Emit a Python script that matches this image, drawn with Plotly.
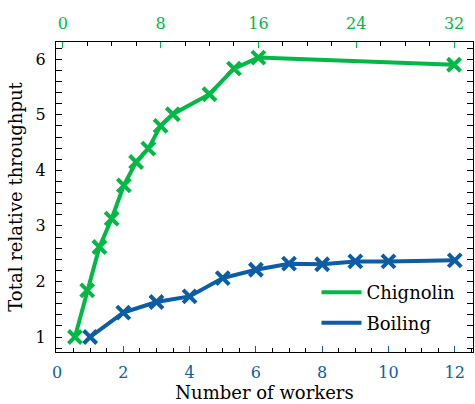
import plotly.graph_objects as go

# Data
chig_workers = [1, 2, 3, 4, 5, 6, 7, 8, 9, 12, 14, 16, 32]
chig_throughput = [1.0, 1.84, 2.62, 3.13, 3.73, 4.15, 4.39, 4.80, 5.01, 5.37, 5.83, 6.03, 5.90]
boil_workers = [1, 2, 3, 4, 5, 6, 7, 8, 9, 10, 12]
boil_throughput = [1.0, 1.44, 1.63, 1.73, 2.06, 2.21, 2.32, 2.31, 2.36, 2.36, 2.38]
bottom_ticks = [0, 2, 4, 6, 8, 10, 12]
top_ticks = [0, 8, 16, 24, 32]
y_ticks = [1, 2, 3, 4, 5, 6]

GREEN = "#00B945"
BLUE = "#0C5DA5"
FONT = "DejaVu Serif"

fig = go.Figure()
fig.add_trace(go.Scatter(
    x=chig_workers, y=chig_throughput, xaxis="x2", name="Chignolin",
    mode="lines+markers", line=dict(color=GREEN, width=4), showlegend=False,
    marker=dict(symbol="x-thin", size=13, line=dict(width=4, color=GREEN)),
))
fig.add_trace(go.Scatter(
    x=boil_workers, y=boil_throughput, xaxis="x", name="Boiling",
    mode="lines+markers", line=dict(color=BLUE, width=4), showlegend=False,
    marker=dict(symbol="x-thin", size=13, line=dict(width=4, color=BLUE)),
))
# legend entries (lines only)
fig.add_trace(go.Scatter(x=[None], y=[None], mode="lines", name="Chignolin",
                         legendgroup="a", line=dict(color=GREEN, width=4)))
fig.add_trace(go.Scatter(x=[None], y=[None], mode="lines", name="Boiling",
                         legendgroup="b", line=dict(color=BLUE, width=4)))

fig.update_layout(
    width=475, height=404,
    margin=dict(l=56, r=2, t=42, b=52, autoexpand=False),
    plot_bgcolor="white", paper_bgcolor="white",
    font=dict(family=FONT, size=16, color="black"),
    showlegend=True,
    legend=dict(x=0.97, xanchor="right", y=0.035, yanchor="bottom",
                bgcolor="rgba(0,0,0,0)", font=dict(size=18, family=FONT),
                itemwidth=40, tracegroupgap=4),
    xaxis=dict(
        range=[-0.03, 12.55], tickvals=bottom_ticks, showgrid=False, zeroline=False,
        showline=True, linecolor="black", linewidth=1.2, mirror=False,
        ticks="inside", ticklen=6, tickcolor=BLUE, tickwidth=1,
        tickfont=dict(color=BLUE, size=16, family=FONT),
        minor=dict(ticks="inside", dtick=0.5, tick0=0, ticklen=3.5, tickcolor="black", showgrid=False),
        title=dict(text="Number of workers", font=dict(size=18, family=FONT), standoff=4),
        ticklabelstandoff=6, automargin=False,
    ),
    xaxis2=dict(
        range=[-0.55, 33.55], tickvals=top_ticks, overlaying="x", side="top",
        showgrid=False, zeroline=False,
        showline=True, linecolor="black", linewidth=1.2,
        ticks="inside", ticklen=6, tickcolor=GREEN, tickwidth=1,
        tickfont=dict(color=GREEN, size=16, family=FONT),
        minor=dict(ticks="inside", dtick=2, tick0=0, ticklen=3.5, tickcolor="black", showgrid=False),
        ticklabelstandoff=6, automargin=False,
    ),
    yaxis=dict(
        range=[0.73, 6.31], tickvals=y_ticks, showgrid=False, zeroline=False,
        showline=True, linecolor="black", linewidth=1.2, mirror="allticks",
        ticks="inside", ticklen=6, tickcolor="black", tickwidth=1,
        tickfont=dict(size=16, family=FONT),
        minor=dict(ticks="inside", dtick=0.2, tick0=0, ticklen=3.5, tickcolor="black", showgrid=False),
        title=dict(text="Total relative throughput", font=dict(size=18, family=FONT), standoff=8),
        ticklabelstandoff=6, automargin=False,
    ),
)

fig.write_html("out.html", config={"displayModeBar": False},
               post_script="document.body.style.margin='0';document.body.style.padding='0';document.body.style.overflow='hidden';")
